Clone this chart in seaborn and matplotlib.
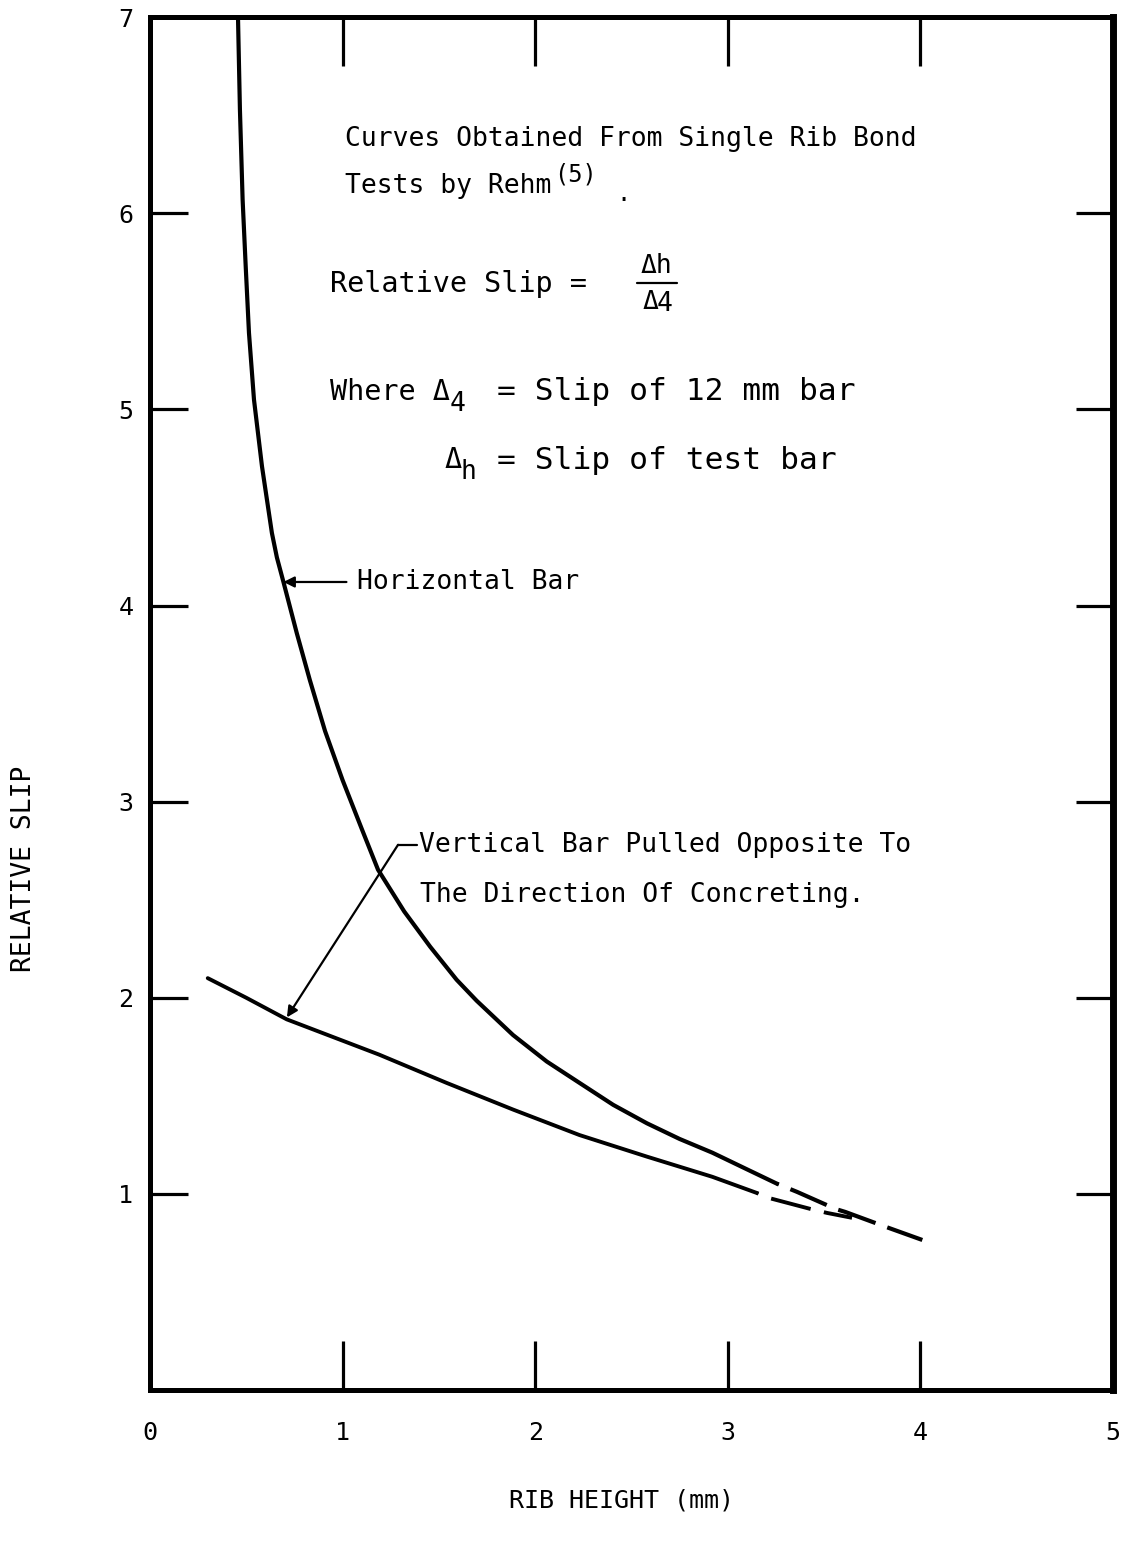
import matplotlib
matplotlib.use("Agg")
import matplotlib.pyplot as plt
import numpy as np
import pandas as pd
import seaborn as sns

# Rib height (mm) vs relative slip, single rib bond tests
horiz_x = [0.457, 0.467, 0.481, 0.497, 0.514, 0.540, 0.5815, 0.633, 0.659, 0.693,
           0.762, 0.83, 0.909, 1.00, 1.10, 1.184, 1.32, 1.455, 1.592, 1.696,
           1.885, 2.06, 2.23, 2.405, 2.58, 2.75, 2.92, 3.10, 3.255]
horiz_y = [7.00, 6.53, 6.07, 5.73, 5.39, 5.05, 4.71, 4.37, 4.245, 4.12,
           3.86, 3.62, 3.36, 3.11, 2.86, 2.653, 2.44, 2.26, 2.092, 1.985,
           1.81, 1.675, 1.566, 1.454, 1.36, 1.28, 1.21, 1.125, 1.052]
horiz_ext_x = [3.255, 3.36, 3.56, 3.61, 3.82, 4.01]
horiz_ext_y = [1.052, 1.01, 0.923, 0.908, 0.832, 0.765]

vert_x = [0.30, 0.50, 0.71, 0.95, 1.19, 1.54, 1.885, 2.23, 2.58, 2.92, 3.15]
vert_y = [2.10, 2.00, 1.89, 1.80, 1.71, 1.566, 1.43, 1.30, 1.19, 1.087, 1.005]
vert_ext_x = [3.15, 3.21, 3.43, 3.515, 3.645]
vert_ext_y = [1.005, 0.98, 0.923, 0.903, 0.878]

x_ticks = [0, 1, 2, 3, 4, 5]
y_ticks = [1, 2, 3, 4, 5, 6, 7]

sns.set_style("ticks")
plt.rcParams["font.family"] = ["DejaVu Sans Mono", "DejaVu Sans"]

fig = plt.figure(figsize=(11.37, 15.46), dpi=100)
ax = fig.add_axes([0.1319, 0.1009, 0.847, 0.888])

def curve(xs, ys, **kw):
    df = pd.DataFrame({"rib": xs, "slip": ys})
    sns.lineplot(data=df, x="rib", y="slip", sort=False, estimator=None,
                 color="black", ax=ax, **kw)

curve(horiz_x, horiz_y, linewidth=3.0)
curve(horiz_ext_x, horiz_ext_y, linewidth=3.0, linestyle=(9.0, (9.5, 3.0)))
curve(vert_x, vert_y, linewidth=2.8)
curve(vert_ext_x, vert_ext_y, linewidth=2.8, linestyle=(10.0, (10.5, 3.5)))

ax.set_xlim(0, 5)
ax.set_ylim(0, 7)
ax.set_xticks(x_ticks)
ax.set_yticks(y_ticks)
ax.set_xticklabels([str(t) for t in x_ticks], fontsize=18)
ax.set_yticklabels([str(t) for t in y_ticks], fontsize=18)

for side in ["left", "right", "top", "bottom"]:
    ax.spines[side].set_visible(True)
    ax.spines[side].set_color("black")
    ax.spines[side].set_linewidth(3.6)
ax.spines["right"].set_linewidth(5.0)

ax.tick_params(axis="x", direction="in", top=True, bottom=True, length=35,
               width=2.3, pad=22, colors="black", labelcolor="black")
ax.tick_params(axis="y", direction="in", left=True, right=True, length=27,
               width=2.3, pad=12, colors="black", labelcolor="black")

ax.set_xlabel("RIB HEIGHT (mm)", fontsize=18, color="black")
ax.set_ylabel("RELATIVE SLIP", fontsize=19, color="black")
ax.xaxis.set_label_coords(0.49, -0.072)
ax.yaxis.set_label_coords(-0.117, 0.38)

# Notes block
tk = dict(color="black", va="center", ha="left")
ax.text(1.012, 6.38, "Curves Obtained From Single Rib Bond", fontsize=19, **tk)
ax.text(1.012, 6.14, "Tests by Rehm", fontsize=19, **tk)
ax.text(2.10, 6.20, "(5)", fontsize=17, **tk)
ax.text(2.42, 6.10, ".", fontsize=17, **tk)

ax.text(0.935, 5.64, "Relative Slip =", fontsize=20.5, **tk)
ax.text(2.63, 5.73, "\u0394h", fontsize=19, color="black", va="center", ha="center")
ax.plot([2.53, 2.735], [5.645, 5.645], color="black", linewidth=1.6)
ax.text(2.60, 5.55, "\u0394", fontsize=19, color="black", va="center", ha="center")
ax.text(2.67, 5.535, "4", fontsize=19, color="black", va="center", ha="center")

ax.text(0.935, 5.09, "Where \u0394", fontsize=20.5, **tk)
ax.text(1.555, 5.03, "4", fontsize=19, **tk)
ax.text(1.80, 5.09, "= Slip of 12 mm bar", fontsize=22.5, **tk)

ax.text(1.53, 4.74, "\u0394", fontsize=20.5, **tk)
ax.text(1.61, 4.68, "h", fontsize=19, **tk)
ax.text(1.80, 4.74, "= Slip of test bar", fontsize=22.5, **tk)

# Curve labels with leaders
ax.annotate("", xy=(0.693, 4.12), xytext=(1.02, 4.12),
            arrowprops=dict(arrowstyle="-|>", lw=1.6, color="black",
                            mutation_scale=16, shrinkA=0, shrinkB=0))
ax.text(1.075, 4.12, "Horizontal Bar", fontsize=19, **tk)

ax.plot([1.386, 1.288], [2.78, 2.78], color="black", linewidth=1.6)
ax.annotate("", xy=(0.711, 1.90), xytext=(1.288, 2.78),
            arrowprops=dict(arrowstyle="-|>", lw=1.6, color="black",
                            mutation_scale=16, shrinkA=0, shrinkB=0))
ax.text(1.395, 2.78, "Vertical Bar Pulled Opposite To", fontsize=19, **tk)
ax.text(1.40, 2.525, "The Direction Of Concreting.", fontsize=19, **tk)

fig.savefig("out.png", dpi=100, facecolor="white")
